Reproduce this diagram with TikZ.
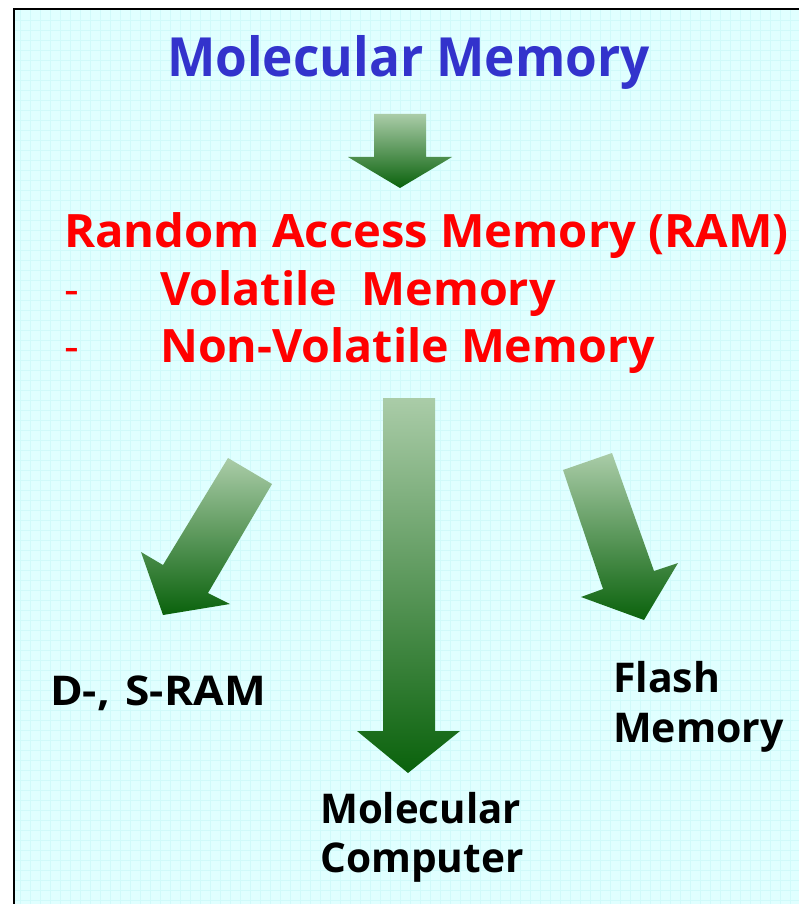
\documentclass[tikz,border=0pt]{standalone}
\usepackage{fontspec}
\setmainfont{Open Sans}
\definecolor{bgcyan}{RGB}{224,255,255}
\definecolor{gridcyan}{RGB}{208,250,250}
\definecolor{titleblue}{RGB}{51,51,204}
\definecolor{ramred}{RGB}{255,0,0}
\definecolor{arrowlight}{RGB}{170,204,168}
\definecolor{arrowdark}{RGB}{10,98,12}
\tikzset{
  blockarrow/.style={top color=arrowlight, bottom color=arrowdark, draw=none},
  titletext/.style={anchor=base west, inner sep=0pt, text=titleblue, font=\bfseries\fontsize{54}{60}\selectfont},
  redtext/.style={anchor=base west, inner sep=0pt, text=ramred, font=\bfseries\fontsize{46}{52}\selectfont},
  reddash/.style={anchor=base west, inner sep=0pt, text=ramred, font=\fontsize{46}{52}\selectfont},
  labeltext/.style={anchor=base west, inner sep=0pt, text=black, font=\bfseries\fontsize{41}{50}\selectfont, align=left}
}
\begin{document}
\begin{tikzpicture}[x=1pt,y=-1pt]
\useasboundingbox (0,0) rectangle (799,904);
\fill[white] (0,0) rectangle (799,904);
\fill[bgcyan] (14,9) rectangle (799,904);
\begin{scope}
\clip (15,10) rectangle (799,904);
\foreach \gx in {20,30,...,790} {\draw[gridcyan, line width=0.6pt] (\gx,10) -- (\gx,904);}
\foreach \gy in {20,30,...,900} {\draw[gridcyan, line width=0.6pt] (15,\gy) -- (799,\gy);}
\end{scope}
\draw[black, line width=2pt] (14,904) -- (14,9) -- (799,9);

% title
\node[titletext] (title) at (167,77) {\scalebox{0.95}[1]{Molecular Memory}};

% top arrow
\shade[blockarrow] (374,114) -- (426,114) -- (426,157) -- (452,157) -- (400,188) -- (348,157) -- (374,157) -- cycle;

% RAM text
\node[redtext] (ram) at (64,247) {\scalebox{1.025}[1]{Random Access Memory (RAM)}};
\node[reddash] (dash1) at (64,305) {-};
\node[redtext] (vol) at (160,305) {\scalebox{1.015}[1]{Volatile\ \ Memory}};
\node[reddash] (dash2) at (64,362) {-};
\node[redtext] (nonvol) at (160,362) {\scalebox{1.012}[1]{Non-Volatile Memory}};

% centre arrow
\shade[blockarrow] (383,398) -- (435,398) -- (435,731) -- (460,731) -- (408,773) -- (357,731) -- (383,731) -- cycle;
% left arrow
\shade[blockarrow] (228,458) -- (272,484) -- (208,593) -- (230,604) -- (163,615) -- (141,552) -- (163,565) -- cycle;
% right arrow
\shade[blockarrow] (563,470) -- (612,453) -- (654,571) -- (678,563) -- (644,620) -- (581,597) -- (603,589) -- cycle;

% labels
\node[labeltext] (dsram) at (50,705) {\scalebox{1.08}[1]{D-,\hspace{0.35em}S-RAM}};
\node[labeltext] (flash1) at (613,692) {Flash};
\node[labeltext] (flash2) at (613,742) {Memory};
\node[labeltext] (mol1) at (320,823) {\scalebox{0.98}[1]{Molecular}};
\node[labeltext] (mol2) at (320,872) {\scalebox{0.99}[1]{Computer}};
\end{tikzpicture}
\end{document}
